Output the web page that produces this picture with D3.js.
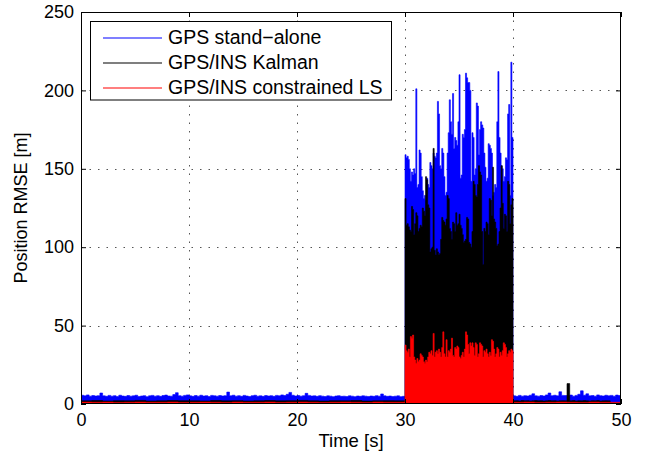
<!DOCTYPE html>
<html>
<head>
<meta charset="utf-8">
<script src="https://cdn.jsdelivr.net/npm/d3@7"></script>
<style>
body { margin: 0; background: #fff; }
svg text { font-family: "Liberation Sans", Arial, Helvetica, sans-serif; }
</style>
</head>
<body>
<div id="chart"></div>
<script>
var xTicks = [0, 10, 20, 30, 40, 50];
var yTicks = [0, 50, 100, 150, 200, 250];
var seriesNames = ["GPS stand\u2212alone", "GPS/INS Kalman", "GPS/INS constrained LS"];
var seriesColors = ["#0000ff", "#000000", "#ff0000"];

// GPS stand-alone, 0..30 s, one value every 0.25 s
var blueCalmA = [
    5.6, 5.2, 5.8, 5.0, 5.4, 5.1, 5.3, 7.0, 5.2, 4.9,
    5.5, 5.0, 5.3, 4.8, 5.6, 5.1, 4.9, 5.4, 5.0, 5.2,
    5.6, 4.8, 5.1, 5.3, 4.7, 5.2, 5.5, 5.0, 5.3, 4.9,
    5.4, 5.7, 5.1, 5.0, 6.0, 7.2, 5.3, 5.0, 5.5, 5.8,
    5.2, 4.9, 5.4, 5.0, 5.6, 5.1, 5.3, 4.8, 5.5, 5.2,
    5.0, 5.4, 5.1, 5.3, 7.6, 5.2, 5.6, 5.0, 5.3, 4.9,
    5.5, 5.1, 4.8, 5.3, 5.6, 5.0, 5.2, 4.9, 5.4, 5.1,
    5.3, 4.9, 5.5, 5.2, 5.8, 5.4, 6.2, 7.4, 5.6, 5.1,
    5.4, 5.0, 5.3, 6.8, 5.5, 5.1, 5.2, 4.9, 5.3, 5.0,
    4.8, 5.2, 5.0, 4.7, 5.1, 5.3, 4.9, 5.0, 4.8, 5.2,
    5.0, 4.7, 5.1, 4.9, 5.2, 5.0, 4.8, 5.1, 4.9, 5.3,
    5.0, 6.4, 5.2, 4.9, 5.1, 4.8, 5.0, 5.2, 4.7, 4.9
];
// 30..40 s, one peak value every 0.1 s
var blueBurst = [
    159, 157, 158, 156, 150, 142, 148, 146, 150, 147,
    201, 138, 140, 162, 160, 145, 136, 131, 133, 130,
    144, 140, 138, 154, 152, 150, 160, 158, 157, 160,
    193, 185, 152, 150, 163, 160, 145, 133, 135, 160,
    173, 194, 180, 172, 198, 163, 170, 168, 165, 180,
    210, 144, 146, 172, 170, 175, 211, 208, 205, 205,
    200, 142, 173, 170, 146, 150, 192, 190, 159, 175,
    180, 178, 176, 160, 151, 142, 144, 166, 165, 163,
    160, 133, 135, 140, 138, 180, 212, 170, 160, 152,
    150, 142, 145, 157, 156, 185, 191, 133, 218, 170
];
// 40..50 s, every 0.25 s
var blueCalmB = [
    5.2, 4.9, 5.5, 5.0, 5.3, 5.1, 5.6, 6.5, 5.2, 5.0,
    5.4, 5.1, 5.8, 7.0, 5.3, 5.6, 5.2, 7.8, 5.5, 5.4,
    5.3, 5.7, 5.0, 5.5, 6.2, 8.4, 5.6, 6.5, 5.2, 5.4,
    5.0, 5.8, 5.3, 5.1, 5.6, 5.2, 5.5, 5.0, 5.7, 5.4
];

// GPS/INS Kalman, 0..30 s every 1 s
var blackCalmA = [
    2.0, 2.2, 1.9, 2.1, 2.0, 2.3, 1.9, 2.0, 2.2, 2.1,
    2.0, 1.9, 2.2, 2.0, 2.1, 1.9, 2.0, 2.2, 2.0, 2.1,
    2.3, 2.0, 1.9, 2.1, 2.0, 2.2, 1.9, 2.0, 2.1, 2.0
];
var blackBurst = [
    131, 114, 115, 113, 111, 110, 126, 124, 108, 115,
    122, 120, 110, 112, 114, 113, 125, 123, 120, 145,
    143, 127, 125, 97, 99, 100, 163, 98, 95, 99,
    97, 95, 96, 105, 119, 117, 116, 114, 118, 133,
    131, 112, 110, 105, 116, 115, 110, 122, 114, 115,
    121, 114, 112, 108, 103, 104, 105, 119, 118, 103,
    102, 100, 110, 142, 140, 133, 132, 140, 152, 148,
    146, 110, 89, 112, 110, 116, 115, 108, 131, 130,
    120, 151, 118, 116, 112, 101, 102, 110, 125, 152,
    128, 112, 121, 120, 110, 142, 140, 115, 127, 131
];
// 40..49 s every 0.25 s
var blackCalmB = [
    2.0, 2.1, 1.9, 2.2, 2.0, 2.1, 1.9, 2.0, 2.2, 2.0,
    2.1, 1.9, 2.0, 2.2, 2.0, 2.1, 1.9, 2.0, 2.1, 2.0,
    13.0, 2.0, 2.2, 1.9, 2.1, 2.0, 2.2, 2.0, 1.9, 2.1,
    2.0, 2.2, 1.9, 2.0, 2.1, 2.0
];

// GPS/INS constrained LS
var redCalmA = [
    1.2, 1.1, 1.2, 1.0, 1.1, 1.2, 1.1, 1.1, 1.2, 1.0,
    1.1, 1.2, 1.1, 1.0, 1.2, 1.1, 1.1, 1.2, 1.0, 1.1,
    1.2, 1.1, 1.0, 1.1, 1.2, 1.1, 1.0, 1.2, 1.1, 1.1
];
var redBurst = [
    37.6, 34, 33, 35, 30, 43, 42, 44, 30, 28,
    26, 29, 27, 28, 32, 31, 30, 27, 26, 28,
    27, 30, 33, 32, 34, 31, 45, 30, 33, 34,
    32, 35, 33, 30, 36, 46, 32, 30, 41, 30,
    34, 33, 35, 42, 31, 30, 36, 35, 37, 36,
    30, 29, 31, 33, 30, 35, 46, 44, 38, 32,
    39, 37, 39, 36, 31, 39, 38, 30, 32, 39,
    38, 37, 30, 34, 33, 35, 32, 30, 33, 31,
    41, 40, 35, 30, 32, 36, 35, 30, 33, 31,
    34, 39, 38, 36, 30, 32, 34, 33, 35, 34
];
var redCalmB = [1.1, 1.2, 1.0, 1.1, 1.2, 1.1, 1.0, 1.2, 1.1, 1.1];

// pieces: [start time, step, values, end time]
var blueSeries = [[0, 0.25, blueCalmA, 30], [30, 0.1, blueBurst, 40], [40, 0.25, blueCalmB, 50]];
var blackSeries = [[0, 1, blackCalmA, 30], [30, 0.1, blackBurst, 40], [40, 0.25, blackCalmB, 49]];
var redSeries = [[0, 1, redCalmA, 30], [30, 0.1, redBurst, 40], [40, 1, redCalmB, 50]];

function build_points(pieces) {
    var pts = [];
    pieces.forEach(function (p) {
        p[2].forEach(function (v, i) {
            pts.push({ t: p[0] + i * p[1], v: v });
        });
        pts.push({ t: p[3], v: p[2][p[2].length - 1] });
    });
    return pts;
}

var width = 648;
var height = 457;
var plotLeft = 81, plotRight = 621, plotTop = 12, plotBottom = 404;

var svg = d3.select("#chart")
    .append("svg")
    .attr("width", width)
    .attr("height", height);

var xScale = d3.scaleLinear().domain([0, 50]).range([plotLeft, plotRight]);
var yScale = d3.scaleLinear().domain([0, 250]).range([plotBottom, plotTop]);

svg.append("defs").append("clipPath").attr("id", "clip")
    .append("rect")
    .attr("x", plotLeft).attr("y", plotTop)
    .attr("width", plotRight - plotLeft).attr("height", plotBottom - plotTop);

// grid
svg.append("g").selectAll("line")
    .data(xTicks.slice(1, -1))
    .enter().append("line")
    .attr("x1", function (d) { return Math.round(xScale(d)) + 0.5; })
    .attr("x2", function (d) { return Math.round(xScale(d)) + 0.5; })
    .attr("y1", plotTop).attr("y2", plotBottom)
    .attr("stroke", "#555").attr("stroke-dasharray", "1.5,7");
svg.append("g").selectAll("line")
    .data(yTicks.slice(1, -1))
    .enter().append("line")
    .attr("y1", function (d) { return Math.round(yScale(d)) + 0.5; })
    .attr("y2", function (d) { return Math.round(yScale(d)) + 0.5; })
    .attr("x1", plotLeft).attr("x2", plotRight)
    .attr("stroke", "#555").attr("stroke-dasharray", "1.5,7");

// data
var area = d3.area()
    .x(function (d) { return xScale(d.t); })
    .y0(yScale(0))
    .y1(function (d) { return yScale(d.v); })
    .curve(d3.curveStepAfter);

var plot = svg.append("g").attr("clip-path", "url(#clip)");
[blueSeries, blackSeries, redSeries].forEach(function (s, k) {
    plot.append("path")
        .datum(build_points(s))
        .attr("d", area)
        .attr("fill", seriesColors[k])
        .attr("stroke", seriesColors[k])
        .attr("stroke-width", 0.6);
});

// axes, MATLAB style ticks inside on all four sides
var xAxis = d3.axisBottom(xScale).tickValues(xTicks).tickSizeInner(-5).tickSizeOuter(0).tickPadding(9);
var yAxis = d3.axisLeft(yScale).tickValues(yTicks).tickSizeInner(-5).tickSizeOuter(0).tickPadding(7);

svg.append("g").attr("transform", "translate(0," + plotBottom + ")").call(xAxis);
svg.append("g").attr("transform", "translate(" + plotLeft + ",0)").call(yAxis);
svg.append("g").attr("transform", "translate(0," + plotTop + ")")
    .call(d3.axisTop(xScale).tickValues(xTicks).tickSizeInner(-5).tickSizeOuter(0).tickFormat(""));
svg.append("g").attr("transform", "translate(" + plotRight + ",0)")
    .call(d3.axisRight(yScale).tickValues(yTicks).tickSizeInner(-5).tickSizeOuter(0).tickFormat(""));

svg.selectAll(".domain").remove();
svg.selectAll(".tick line").attr("stroke", "#000");
svg.selectAll(".tick text").attr("font-size", 18).attr("fill", "#000");

svg.append("rect")
    .attr("x", plotLeft + 0.5).attr("y", plotTop + 0.5)
    .attr("width", plotRight - plotLeft - 1).attr("height", plotBottom - plotTop - 1)
    .attr("fill", "none").attr("stroke", "#000");

// labels
svg.append("text")
    .attr("x", (plotLeft + plotRight) / 2).attr("y", 447)
    .attr("text-anchor", "middle").attr("font-size", 18.5)
    .text("Time [s]");
svg.append("text")
    .attr("transform", "translate(27," + (plotTop + plotBottom) / 2 + ") rotate(-90)")
    .attr("text-anchor", "middle").attr("font-size", 18)
    .text("Position RMSE [m]");

// legend
var legend = svg.append("g");
legend.append("rect")
    .attr("x", 90.5).attr("y", 21.5)
    .attr("width", 301).attr("height", 78.5)
    .attr("fill", "#fff").attr("stroke", "#000");
seriesNames.forEach(function (name, i) {
    var ly = 38 + i * 25;
    legend.append("line")
        .attr("x1", 103).attr("x2", 162)
        .attr("y1", ly).attr("y2", ly)
        .attr("stroke", seriesColors[i]).attr("stroke-width", 1.2);
    legend.append("text")
        .attr("x", 168).attr("y", ly + 6.3)
        .attr("font-size", 19.5)
        .text(name);
});
</script>
</body>
</html>
